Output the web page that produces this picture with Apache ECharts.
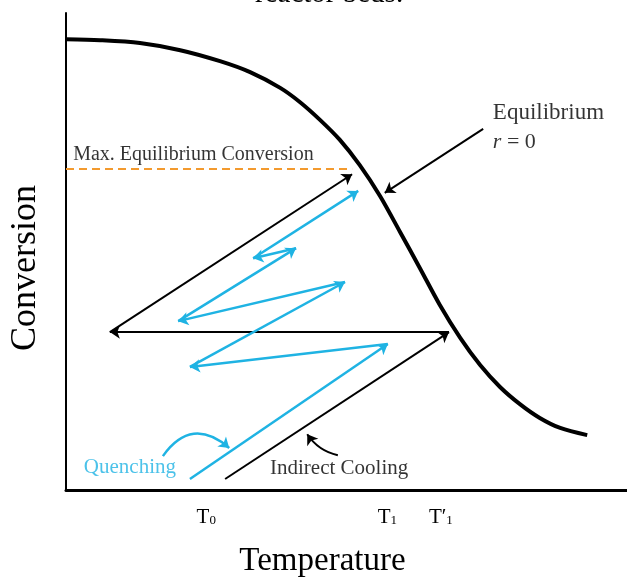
<!DOCTYPE html>
<html>
<head>
<meta charset="utf-8">
<script src="https://cdn.jsdelivr.net/npm/echarts@6/dist/echarts.min.js"></script>
<style>
  html, body { margin: 0; padding: 0; background: #fff; }
  #chart { width: 627px; height: 579px; }
</style>
</head>
<body>
<div id="chart"></div>
<script>
// equilibrium curve r = 0 (temperature in arbitrary units, conversion 0..1)
const eqTemp = [0, 6.7, 14.5, 22.4, 30.2, 36.1, 42.0, 45.9, 49.8, 53.7, 57.6, 61.6, 65.5, 69.4, 73.3, 77.3, 81.2, 85.1, 89.0, 92.9, 96.9, 102.2];
const eqConv = [0.945, 0.943, 0.937, 0.922, 0.899, 0.876, 0.843, 0.813, 0.776, 0.734, 0.681, 0.616, 0.541, 0.465, 0.388, 0.319, 0.262, 0.216, 0.180, 0.151, 0.130, 0.115];

// max equilibrium conversion level
const maxConv = 0.673;
const maxTemp = 56.1;

// indirect cooling path (black)
const coolTemp = [31.2, 75.1, 8.6, 56.1];
const coolConv = [0.023, 0.331, 0.331, 0.662];

// quenching path (cyan)
const quenchTemp = [24.3, 63.1, 24.3, 54.7, 22.0, 45.1, 36.7, 57.3];
const quenchConv = [0.023, 0.306, 0.258, 0.436, 0.354, 0.507, 0.486, 0.627];

// x tick labels
const tickValues = [27.5, 63, 73.5];
const tickMain = ['T', 'T', 'T\u2032'];
const tickSub = ['0', '1', '1'];

const SERIF = '"Liberation Serif", "Times New Roman", serif';
const CYAN = '#1fb3e3';
const ORANGE = '#f39a2e';

function segments(xs, ys) {
  const out = [];
  for (let i = 1; i < xs.length; i++) {
    out.push({ coords: [[xs[i - 1], ys[i - 1]], [xs[i], ys[i]]] });
  }
  return out;
}

const chart = echarts.init(document.getElementById('chart'));

const option = {
  animation: false,
  backgroundColor: '#fff',
  title: {
    text: 'reactor beds.',
    left: 250,
    top: -25,
    textStyle: { fontFamily: SERIF, fontSize: 29, fontWeight: 'normal', color: '#000' }
  },
  grid: { left: 66, right: 0, top: 13, bottom: 89, outerBoundsMode: 'none', containLabel: false },
  xAxis: {
    type: 'value',
    min: 0,
    max: 110,
    name: 'Temperature',
    nameLocation: 'middle',
    nameGap: 55,
    nameTextStyle: { fontFamily: SERIF, fontSize: 33, color: '#000', padding: [0, 48, 0, 0] },
    axisLine: { show: true, lineStyle: { color: '#000', width: 3 } },
    axisTick: { show: false },
    splitLine: { show: false },
    axisLabel: {
      customValues: tickValues,
      margin: 17,
      formatter: function (v) {
        const i = tickValues.indexOf(v);
        return i < 0 ? '' : '{t|' + tickMain[i] + '}{s|' + tickSub[i] + '}';
      },
      rich: {
        t: { fontFamily: SERIF, fontSize: 21, color: '#000' },
        s: { fontFamily: SERIF, fontSize: 13, color: '#000', padding: [6, 0, 0, 0] }
      }
    }
  },
  yAxis: {
    type: 'value',
    min: 0,
    max: 1,
    name: 'Conversion',
    nameLocation: 'middle',
    nameRotate: 90,
    nameGap: 22,
    nameTextStyle: { fontFamily: SERIF, fontSize: 36, color: '#000', padding: [0, 33, 0, 0] },
    axisLine: { show: true, lineStyle: { color: '#000', width: 2 } },
    axisTick: { show: false },
    axisLabel: { show: false },
    splitLine: { show: false }
  },
  series: [
    {
      name: 'Equilibrium',
      type: 'line',
      smooth: 0.3,
      showSymbol: false,
      data: eqTemp.map((t, i) => [t, eqConv[i]]),
      lineStyle: { color: '#000', width: 4 },
      z: 5
    },
    {
      name: 'Max. Equilibrium Conversion',
      type: 'line',
      showSymbol: false,
      data: [[0, maxConv], [maxTemp, maxConv]],
      lineStyle: { color: ORANGE, width: 2, type: [8, 5] }
    },
    {
      name: 'Indirect Cooling',
      type: 'lines',
      coordinateSystem: 'cartesian2d',
      symbol: ['none', 'arrow'],
      symbolSize: 10,
      lineStyle: { color: '#000', width: 2, opacity: 1 },
      data: segments(coolTemp, coolConv)
    },
    {
      name: 'Quenching',
      type: 'lines',
      coordinateSystem: 'cartesian2d',
      symbol: ['none', 'arrow'],
      symbolSize: 10,
      lineStyle: { color: CYAN, width: 2.5, opacity: 1 },
      data: segments(quenchTemp, quenchConv)
    },
    {
      name: 'pointers',
      type: 'lines',
      coordinateSystem: 'cartesian2d',
      symbol: ['none', 'arrow'],
      symbolSize: 10,
      lineStyle: { opacity: 1 },
      data: [
        { coords: [[81.8, 0.757], [62.5, 0.623]], lineStyle: { color: '#000', width: 2, curveness: 0 } },
        { coords: [[53.3, 0.073], [47.3, 0.117]], lineStyle: { color: '#000', width: 2, curveness: 0.2 } },
        { coords: [[19.0, 0.071], [32.0, 0.088]], lineStyle: { color: CYAN, width: 2.5, curveness: 0.55 } }
      ]
    },
    {
      name: 'notes',
      type: 'scatter',
      symbolSize: 0,
      silent: true,
      label: {
        show: true,
        position: 'right',
        distance: 0,
        fontFamily: SERIF,
        fontSize: 21,
        color: '#000',
        formatter: p => p.data.text,
        rich: { i: { fontFamily: SERIF, fontSize: 22, fontStyle: 'italic', color: '#000' }, n: { fontFamily: SERIF, fontSize: 22, color: '#000' } }
      },
      data: [
        { value: [1.4, 0.702], text: 'Max. Equilibrium Conversion', label: { fontSize: 20 } },
        { value: [83.7, 0.790], text: 'Equilibrium', label: { fontSize: 23 } },
        { value: [83.7, 0.730], text: '{i|r}{n| = 0}' },
        { value: [3.5, 0.048], text: 'Quenching', label: { color: CYAN } },
        { value: [40.0, 0.045], text: 'Indirect Cooling' }
      ]
    }
  ]
};

chart.setOption(option);
</script>
</body>
</html>
